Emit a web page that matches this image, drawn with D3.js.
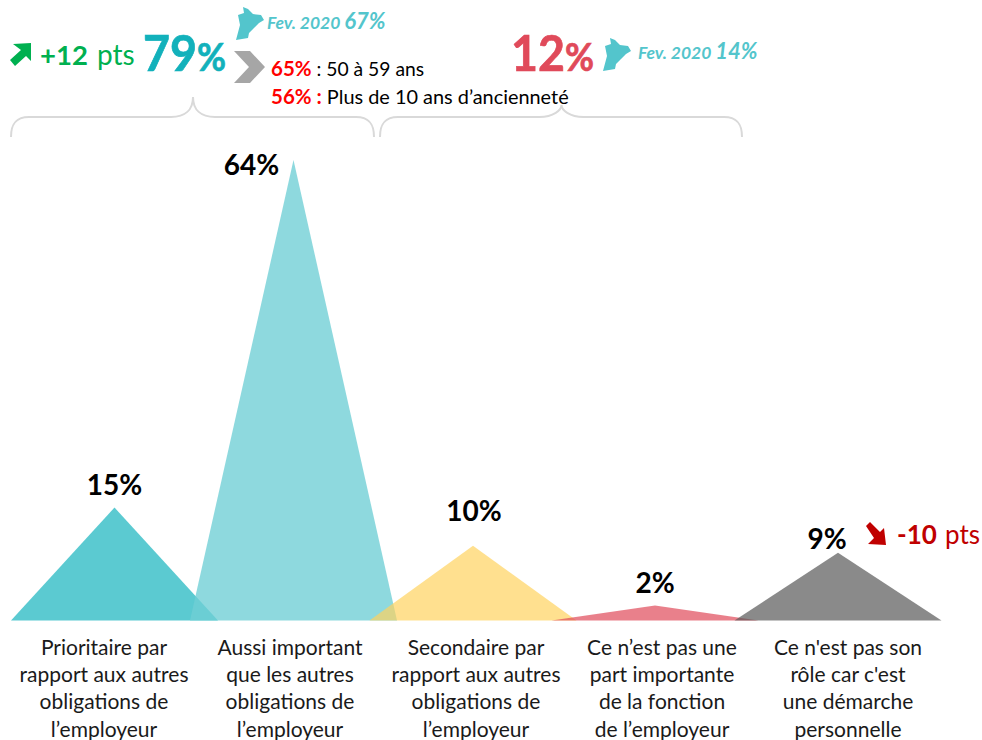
<!DOCTYPE html>
<html>
<head>
<meta charset="utf-8">
<script src="https://cdn.jsdelivr.net/npm/d3@7"></script>
<style>
  html, body { margin: 0; padding: 0; background: #fff; overflow: hidden; }
  svg { display: block; }
  text { font-family: Lato, "Open Sans", sans-serif; }
</style>
</head>
<body>
<svg id="chart" width="982" height="740"></svg>
<script>
const categories = ["prioritaire", "aussi", "secondaire", "pas-part", "pas-role"];
const peakValues = [15.7, 64, 10.4, 2.1, 9.4];
const valueLabels = ["15%", "64%", "10%", "2%", "9%"];
const categoryLines = [
  ["Prioritaire par", "rapport aux autres", "obligations de", "l’employeur"],
  ["Aussi important", "que les autres", "obligations de", "l’employeur"],
  ["Secondaire par", "rapport aux autres", "obligations de", "l’employeur"],
  ["Ce n’est pas une", "part importante", "de la fonction", "de l’employeur"],
  ["Ce n'est pas son", "rôle car c'est", "une démarche", "personnelle"]
];
const fillColors = ["#16b3bd", "#70cfd5", "#ffd25d", "#e04a5a", "#595959"];
const fillAlpha = [0.7, 0.79, 0.69, 0.7, 0.7];

const svg = d3.select("#chart");
const baseY = 620.5;
const halfWidth = 103.5;

const x = d3.scaleOrdinal().domain(categories).range([114.5, 293.5, 473, 655, 838]);
const xLabel = d3.scalePoint().domain(categories).range([104, 848]);
const y = d3.scaleLinear().domain([0, 64]).range([baseY, 160]);

// triangles
svg.append("g").selectAll("path")
  .data(categories)
  .join("path")
  .attr("d", (d, i) => d3.line()([
    [x(d) - halfWidth, y(0)],
    [x(d), y(peakValues[i])],
    [x(d) + halfWidth, y(0)]
  ]) + "Z")
  .attr("fill", (d, i) => fillColors[i])
  .attr("fill-opacity", (d, i) => fillAlpha[i]);

// value labels, not all centred on their peak in the original
const labelDx = [0, -42, 1, 0, -11];
const labelDy = [-13, 15, -25, -12, -4];
svg.append("g").selectAll("text")
  .data(categories)
  .join("text")
  .attr("x", (d, i) => x(d) + labelDx[i])
  .attr("y", (d, i) => y(peakValues[i]) + labelDy[i])
  .attr("text-anchor", "middle")
  .attr("font-size", 28)
  .attr("font-weight", 700)
  .attr("fill", "#000")
  .text((d, i) => valueLabels[i]);

// category labels
const labelRows = [655, 682, 709, 737];
categories.forEach((c, i) => {
  svg.append("g").selectAll("text")
    .data(categoryLines[i])
    .join("text")
    .attr("x", xLabel(c))
    .attr("y", (d, j) => labelRows[j])
    .attr("text-anchor", "middle")
    .attr("font-size", 21)
    .attr("fill", "#1a1a1a")
    .text(d => d);
});

// braces
function brace(x0, x1, tipY) {
  const mid = (x0 + x1) / 2 + 0.5;
  const p = d3.path();
  p.moveTo(x0, 137);
  p.bezierCurveTo(x0, 125, x0 + 4, 117, x0 + 18, 117);
  p.lineTo(mid - 22, 117);
  p.bezierCurveTo(mid - 8, 117, mid, 110, mid, tipY);
  p.bezierCurveTo(mid, 110, mid + 8, 117, mid + 22, 117);
  p.lineTo(x1 - 18, 117);
  p.bezierCurveTo(x1 - 4, 117, x1, 125, x1, 137);
  return p.toString();
}
svg.append("g").selectAll("path")
  .data([[11, 374, 97], [380, 742, 105]])
  .join("path")
  .attr("d", d => brace(d[0], d[1], d[2]))
  .attr("fill", "none")
  .attr("stroke", "#d9d9d9")
  .attr("stroke-width", 2);

// small map icons
const mapShape = "M243 7L248 9L253 14L261 15L264 20L259 23L254 28L249 33L248 38L236 40L240 25L238 15L244 13Z";
svg.append("path").attr("d", mapShape).attr("fill", "#53c5cc");
svg.append("path").attr("d", mapShape).attr("fill", "#53c5cc").attr("transform", "translate(367,31)");

// trend arrows and chevron
svg.append("path").attr("d", "M13 44L31 43L31 61L26 56L15 66L10 60L21 50Z").attr("fill", "#00b050");
svg.append("path").attr("d", "M866 526L870 522L880 532L884 528L886 545L868 544L874 538Z").attr("fill", "#c00000");
svg.append("path").attr("d", "M234 51L250 51L265 67L250 83L234 83L249 67Z").attr("fill", "#a6a6a6");

function addText(px, py, parts) {
  const t = svg.append("text").attr("x", px).attr("y", py);
  parts.forEach(s => {
    t.append("tspan")
      .attr("font-size", s.size)
      .attr("font-weight", s.bold ? 700 : 400)
      .attr("font-style", s.italic ? "italic" : "normal")
      .attr("fill", s.color)
      .text(s.text);
  });
}

// big numbers are narrower in the original font, squeeze them
function addBigNumber(px, py, digits, len, color) {
  const t = svg.append("text")
    .attr("font-size", 50)
    .attr("font-weight", 700)
    .attr("fill", color)
    .attr("stroke", color)
    .attr("stroke-width", 0.7);
  t.append("tspan").text(digits);
  t.append("tspan").attr("font-size", 38).text("%");
  const squeeze = len / t.node().getComputedTextLength();
  t.attr("transform", `translate(${px},${py}) scale(${squeeze},1)`);
}

addText(40, 65, [{ text: "+12", size: 27.5, bold: true, color: "#00b050" }]);
addText(97, 65, [{ text: "pts", size: 28, color: "#00b050" }]);

addBigNumber(143, 71, "79", 83, "#12b1bb");
addBigNumber(511, 71, "12", 83, "#e04a5a");

addText(267, 29, [
  { text: "Fev. 2020 ", size: 17.5, bold: true, italic: true, color: "#53c5cc" },
  { text: "67%", size: 22, bold: true, italic: true, color: "#53c5cc" }
]);
addText(638, 59, [
  { text: "Fev. 2020 ", size: 17.5, bold: true, italic: true, color: "#53c5cc" },
  { text: "14%", size: 22, bold: true, italic: true, color: "#53c5cc" }
]);

addText(271, 76, [
  { text: "65%", size: 20.5, bold: true, color: "#ff0000" },
  { text: " : 50 à 59 ans", size: 19.3, color: "#000" }
]);
addText(271, 104, [
  { text: "56% : ", size: 20.5, bold: true, color: "#ff0000" },
  { text: "Plus de 10 ans d’ancienneté", size: 19.9, color: "#000" }
]);

addText(897, 544, [{ text: "-10", size: 26, bold: true, color: "#c00000" }]);
addText(945, 544, [{ text: "pts", size: 26, color: "#c00000" }]);
</script>
</body>
</html>
